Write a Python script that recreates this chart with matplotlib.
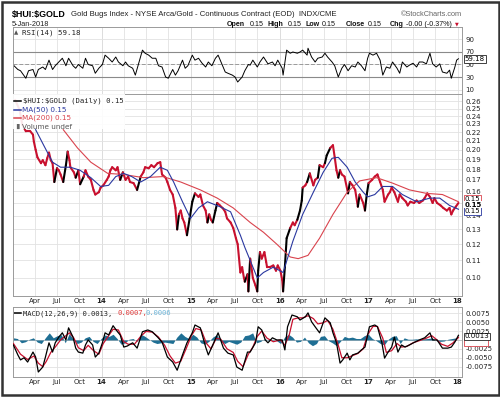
import numpy as np
import matplotlib
matplotlib.use("Agg")
import matplotlib.pyplot as plt
from matplotlib.collections import LineCollection
from matplotlib.patches import Rectangle
from matplotlib.ticker import FixedLocator, FixedFormatter, NullLocator

# ---------------- data (decimal years) ----------------
price_t = [2013.03, 2013.08, 2013.11, 2013.15, 2013.20, 2013.23, 2013.24, 2013.26, 2013.28, 2013.32,
           2013.34, 2013.37, 2013.39, 2013.41, 2013.43, 2013.45, 2013.47, 2013.50, 2013.52, 2013.54,
           2013.57, 2013.60, 2013.62, 2013.64, 2013.65, 2013.69, 2013.71, 2013.74, 2013.76, 2013.80,
           2013.82, 2013.85, 2013.88, 2013.91, 2013.93, 2013.97, 2013.99, 2014.02, 2014.06, 2014.08,
           2014.10, 2014.12, 2014.16, 2014.18, 2014.21, 2014.24, 2014.27, 2014.30, 2014.32, 2014.36,
           2014.40, 2014.44, 2014.47, 2014.49, 2014.53, 2014.56, 2014.59, 2014.63, 2014.66, 2014.68,
           2014.72, 2014.74, 2014.77, 2014.80, 2014.83, 2014.85, 2014.87, 2014.89, 2014.91, 2014.93,
           2014.96, 2014.99, 2015.02, 2015.05, 2015.09, 2015.11, 2015.14, 2015.17, 2015.19, 2015.21,
           2015.23, 2015.25, 2015.28, 2015.30, 2015.33, 2015.36, 2015.39, 2015.41, 2015.45, 2015.48,
           2015.51, 2015.53, 2015.56, 2015.58, 2015.60, 2015.61, 2015.64, 2015.65, 2015.67, 2015.69,
           2015.70, 2015.73, 2015.75, 2015.76, 2015.78, 2015.80, 2015.83, 2015.85, 2015.86, 2015.89,
           2015.93, 2015.96, 2015.98, 2016.01, 2016.03, 2016.04, 2016.06, 2016.08, 2016.12, 2016.15,
           2016.17, 2016.20, 2016.23, 2016.25, 2016.26, 2016.29, 2016.31, 2016.34, 2016.38, 2016.40,
           2016.43, 2016.45, 2016.49, 2016.51, 2016.53, 2016.57, 2016.60, 2016.62, 2016.64, 2016.66,
           2016.68, 2016.70, 2016.73, 2016.77, 2016.79, 2016.82, 2016.85, 2016.88, 2016.90, 2016.94,
           2016.96, 2016.98, 2017.00, 2017.04, 2017.07, 2017.10, 2017.13, 2017.16, 2017.18, 2017.22,
           2017.24, 2017.26, 2017.29, 2017.33, 2017.35, 2017.38, 2017.42, 2017.44, 2017.47, 2017.51,
           2017.54, 2017.57, 2017.61, 2017.63, 2017.66, 2017.69, 2017.72, 2017.74, 2017.77, 2017.81,
           2017.84, 2017.88, 2017.91, 2017.93, 2017.95, 2017.98, 2018.01]
price_v = [0.262, 0.248, 0.229, 0.221, 0.221, 0.217, 0.209, 0.200, 0.192, 0.186,
           0.189, 0.184, 0.191, 0.197, 0.189, 0.186, 0.168, 0.181, 0.179, 0.175,
           0.168, 0.184, 0.198, 0.189, 0.182, 0.177, 0.172, 0.179, 0.166, 0.173,
           0.179, 0.173, 0.170, 0.161, 0.157, 0.159, 0.163, 0.165, 0.170, 0.173,
           0.179, 0.182, 0.179, 0.182, 0.170, 0.177, 0.170, 0.173, 0.168, 0.167,
           0.161, 0.173, 0.177, 0.182, 0.181, 0.184, 0.182, 0.186, 0.187, 0.175,
           0.172, 0.168, 0.161, 0.157, 0.146, 0.130, 0.141, 0.144, 0.138, 0.135,
           0.126, 0.138, 0.151, 0.158, 0.155, 0.157, 0.148, 0.144, 0.135, 0.141,
           0.137, 0.135, 0.144, 0.150, 0.148, 0.146, 0.143, 0.138, 0.135, 0.131,
           0.124, 0.120, 0.103, 0.106, 0.100, 0.098, 0.102, 0.093, 0.111, 0.104,
           0.100, 0.096, 0.093, 0.104, 0.115, 0.111, 0.115, 0.109, 0.106, 0.106,
           0.107, 0.104, 0.107, 0.104, 0.099, 0.093, 0.106, 0.124, 0.131, 0.135,
           0.133, 0.137, 0.144, 0.152, 0.163, 0.165, 0.168, 0.176, 0.165, 0.170,
           0.172, 0.184, 0.182, 0.186, 0.194, 0.202, 0.205, 0.192, 0.179, 0.172,
           0.179, 0.175, 0.173, 0.158, 0.168, 0.165, 0.161, 0.147, 0.157, 0.150,
           0.144, 0.157, 0.167, 0.170, 0.173, 0.175, 0.168, 0.161, 0.151, 0.157,
           0.159, 0.163, 0.159, 0.151, 0.157, 0.154, 0.151, 0.148, 0.151, 0.150,
           0.152, 0.150, 0.152, 0.154, 0.158, 0.155, 0.150, 0.154, 0.150, 0.148,
           0.146, 0.144, 0.146, 0.141, 0.144, 0.147, 0.150]

ma50_t = [2013.26, 2013.35, 2013.45, 2013.54, 2013.65, 2013.76, 2013.88, 2013.99, 2014.08, 2014.16,
          2014.25, 2014.34, 2014.44, 2014.55, 2014.66, 2014.74, 2014.81, 2014.91, 2015.00, 2015.09,
          2015.19, 2015.33, 2015.45, 2015.56, 2015.61, 2015.67, 2015.75, 2015.82, 2015.93, 2016.04,
          2016.15, 2016.26, 2016.38, 2016.49, 2016.59, 2016.66, 2016.76, 2016.85, 2016.94, 2016.99,
          2017.07, 2017.16, 2017.27, 2017.38, 2017.54, 2017.69, 2017.80, 2017.91, 2018.01]
ma50_v = [0.223, 0.205, 0.187, 0.182, 0.182, 0.179, 0.172, 0.164, 0.165, 0.173,
          0.176, 0.173, 0.168, 0.173, 0.182, 0.179, 0.168, 0.151, 0.138, 0.146,
          0.151, 0.147, 0.143, 0.126, 0.118, 0.110, 0.100, 0.103, 0.106, 0.103,
          0.122, 0.141, 0.159, 0.177, 0.191, 0.192, 0.182, 0.168, 0.159, 0.155,
          0.157, 0.164, 0.164, 0.157, 0.151, 0.154, 0.154, 0.148, 0.145]

ma200_t = [2013.57, 2013.73, 2013.88, 2014.07, 2014.25, 2014.47, 2014.69, 2014.89, 2015.11, 2015.30,
           2015.48, 2015.67, 2015.82, 2015.97, 2016.12, 2016.21, 2016.32, 2016.45, 2016.60, 2016.76,
           2016.90, 2017.09, 2017.27, 2017.46, 2017.65, 2017.83, 2018.01]
ma200_v = [0.223, 0.202, 0.187, 0.176, 0.175, 0.172, 0.173, 0.168, 0.161, 0.154,
           0.146, 0.135, 0.128, 0.120, 0.112, 0.111, 0.113, 0.124, 0.141, 0.159,
           0.169, 0.172, 0.167, 0.161, 0.158, 0.157, 0.151]

rsi_t = [2013.01, 2013.06, 2013.09, 2013.15, 2013.18, 2013.23, 2013.26, 2013.29, 2013.34, 2013.37,
         2013.41, 2013.45, 2013.48, 2013.52, 2013.56, 2013.60, 2013.63, 2013.68, 2013.71, 2013.74,
         2013.79, 2013.82, 2013.85, 2013.90, 2013.93, 2013.97, 2014.01, 2014.04, 2014.08, 2014.12,
         2014.16, 2014.19, 2014.24, 2014.27, 2014.30, 2014.35, 2014.38, 2014.41, 2014.46, 2014.49,
         2014.53, 2014.57, 2014.61, 2014.64, 2014.68, 2014.72, 2014.75, 2014.80, 2014.83, 2014.86,
         2014.91, 2014.94, 2014.97, 2015.02, 2015.05, 2015.09, 2015.13, 2015.17, 2015.20, 2015.24,
         2015.28, 2015.31, 2015.36, 2015.39, 2015.42, 2015.47, 2015.50, 2015.53, 2015.58, 2015.61,
         2015.65, 2015.67, 2015.70, 2015.75, 2015.78, 2015.82, 2015.87, 2015.92, 2015.95, 2015.98,
         2016.03, 2016.04, 2016.08, 2016.12, 2016.15, 2016.20, 2016.23, 2016.26, 2016.31, 2016.32,
         2016.36, 2016.40, 2016.43, 2016.48, 2016.51, 2016.54, 2016.59, 2016.62, 2016.66, 2016.70,
         2016.73, 2016.77, 2016.81, 2016.85, 2016.88, 2016.92, 2016.96, 2016.99, 2017.01, 2017.05,
         2017.09, 2017.13, 2017.16, 2017.20, 2017.24, 2017.27, 2017.32, 2017.35, 2017.38, 2017.43,
         2017.46, 2017.50, 2017.54, 2017.57, 2017.61, 2017.65, 2017.69, 2017.72, 2017.76, 2017.80,
         2017.83, 2017.88, 2017.91, 2017.93, 2017.97, 2017.99, 2018.01]
rsi_v = [49, 42, 40, 28, 40, 42, 30, 42, 46, 42,
         57, 42, 48, 54, 60, 48, 60, 48, 44, 50,
         44, 60, 50, 48, 36, 44, 50, 65, 60, 54,
         62, 54, 48, 54, 48, 44, 33, 48, 73, 68,
         65, 60, 60, 48, 46, 30, 28, 42, 33, 40,
         57, 44, 48, 65, 57, 60, 52, 46, 54, 48,
         60, 65, 48, 38, 36, 33, 30, 22, 30, 40,
         50, 49, 57, 46, 54, 62, 51, 54, 48, 57,
         44, 33, 73, 68, 70, 68, 70, 73, 65, 76,
         62, 54, 60, 62, 68, 62, 54, 48, 30, 44,
         50, 40, 48, 46, 54, 48, 40, 60, 68, 65,
         68, 57, 33, 46, 44, 54, 44, 36, 54, 46,
         49, 52, 46, 54, 54, 51, 68, 51, 46, 51,
         38, 36, 41, 28, 46, 57, 59.18]

macd_t = [2013.01, 2013.06, 2013.09, 2013.13, 2013.17, 2013.23, 2013.26, 2013.29, 2013.34, 2013.37,
          2013.41, 2013.45, 2013.48, 2013.52, 2013.56, 2013.60, 2013.63, 2013.68, 2013.71, 2013.74,
          2013.79, 2013.82, 2013.85, 2013.90, 2013.93, 2013.97, 2014.01, 2014.04, 2014.08, 2014.13,
          2014.18, 2014.21, 2014.25, 2014.29, 2014.35, 2014.40, 2014.46, 2014.52, 2014.57, 2014.63,
          2014.68, 2014.74, 2014.80, 2014.85, 2014.91, 2014.96, 2015.02, 2015.05, 2015.11, 2015.17,
          2015.20, 2015.25, 2015.31, 2015.37, 2015.42, 2015.48, 2015.52, 2015.58, 2015.64, 2015.67,
          2015.73, 2015.76, 2015.80, 2015.84, 2015.87, 2015.92, 2015.97, 2016.03, 2016.06, 2016.09,
          2016.14, 2016.20, 2016.23, 2016.29, 2016.32, 2016.36, 2016.40, 2016.45, 2016.51, 2016.57,
          2016.60, 2016.64, 2016.68, 2016.71, 2016.76, 2016.79, 2016.82, 2016.88, 2016.92, 2016.96,
          2017.01, 2017.07, 2017.10, 2017.15, 2017.18, 2017.22, 2017.26, 2017.29, 2017.33, 2017.37,
          2017.41, 2017.46, 2017.52, 2017.57, 2017.63, 2017.69, 2017.72, 2017.77, 2017.83, 2017.89,
          2017.93, 2017.97, 2018.01]
macd_v = [-0.0014, -0.0042, -0.0056, -0.0050, -0.0062, -0.0034, -0.0048, -0.0090, -0.0076, -0.0048,
          -0.0008, -0.0034, -0.0008, 0.0008, 0.0020, 0.0000, 0.0034, 0.0008, -0.0023, -0.0034,
          -0.0037, -0.0014, 0.0000, -0.0014, -0.0048, -0.0037, -0.0008, 0.0020, 0.0014, 0.0040,
          0.0023, 0.0014, -0.0020, -0.0017, -0.0008, -0.0023, 0.0023, 0.0028, 0.0023, 0.0008,
          -0.0006, -0.0048, -0.0062, -0.0085, -0.0042, -0.0008, 0.0020, 0.0042, 0.0034, -0.0020,
          -0.0042, -0.0014, 0.0020, -0.0023, -0.0037, -0.0042, -0.0076, -0.0085, -0.0034, -0.0034,
          -0.0008, 0.0037, 0.0028, 0.0000, -0.0008, 0.0006, 0.0000, 0.0000, -0.0028, 0.0037,
          0.0070, 0.0065, 0.0056, 0.0065, 0.0076, 0.0051, 0.0037, 0.0020, 0.0062, 0.0048,
          0.0020, -0.0008, -0.0065, -0.0056, -0.0037, -0.0056, -0.0042, -0.0037, -0.0028, -0.0020,
          0.0037, 0.0042, 0.0037, -0.0008, -0.0051, -0.0034, -0.0020, 0.0008, -0.0034, -0.0014,
          -0.0020, -0.0014, -0.0006, 0.0000, 0.0006, 0.0020, 0.0000, 0.0000, -0.0023, -0.0023,
          -0.0020, -0.0006, 0.0013]

signal_t = [2013.01, 2013.09, 2013.17, 2013.24, 2013.29, 2013.34, 2013.38, 2013.43, 2013.48, 2013.54,
            2013.60, 2013.64, 2013.69, 2013.74, 2013.80, 2013.85, 2013.91, 2013.97, 2014.02, 2014.08,
            2014.13, 2014.19, 2014.25, 2014.30, 2014.37, 2014.44, 2014.50, 2014.57, 2014.64, 2014.71,
            2014.77, 2014.83, 2014.89, 2014.95, 2015.01, 2015.06, 2015.12, 2015.18, 2015.23, 2015.29,
            2015.34, 2015.41, 2015.48, 2015.53, 2015.59, 2015.65, 2015.70, 2015.75, 2015.80, 2015.86,
            2015.93, 2016.01, 2016.06, 2016.11, 2016.15, 2016.21, 2016.26, 2016.32, 2016.38, 2016.43,
            2016.49, 2016.54, 2016.60, 2016.66, 2016.70, 2016.76, 2016.81, 2016.88, 2016.94, 2016.99,
            2017.05, 2017.10, 2017.16, 2017.20, 2017.26, 2017.32, 2017.37, 2017.43, 2017.50, 2017.57,
            2017.64, 2017.71, 2017.76, 2017.82, 2017.89, 2017.95, 2018.01]
signal_v = [-0.0010, -0.0040, -0.0055, -0.0045, -0.0065, -0.0075, -0.0060, -0.0035, -0.0020, 0.0000,
            0.0012, 0.0020, 0.0005, -0.0022, -0.0030, -0.0015, -0.0030, -0.0040, -0.0010, 0.0012,
            0.0030, 0.0028, -0.0005, -0.0012, -0.0012, 0.0010, 0.0024, 0.0022, 0.0008, -0.0015,
            -0.0045, -0.0065, -0.0060, -0.0025, 0.0012, 0.0032, 0.0028, -0.0010, -0.0025, 0.0005,
            0.0002, -0.0025, -0.0035, -0.0060, -0.0075, -0.0040, -0.0020, 0.0010, 0.0025, 0.0005,
            -0.0005, 0.0000, -0.0015, 0.0015, 0.0058, 0.0062, 0.0062, 0.0068, 0.0060, 0.0045,
            0.0048, 0.0055, 0.0030, -0.0015, -0.0050, -0.0050, -0.0045, -0.0038, -0.0025, 0.0015,
            0.0038, 0.0038, 0.0005, -0.0035, -0.0030, -0.0010, -0.0020, -0.0018, -0.0008, -0.0002,
            0.0004, 0.0012, 0.0002, -0.0012, -0.0018, -0.0008, 0.0007]

# MACD histogram, thousandths, one value every ~16 days from 2013.01
hist_start = 2013.01
hist_step = 0.0448
hist_milli = [0.6, 0.4, -0.8, -0.5, 0.2, 0.6, -0.6, -1.0, 0.6, 2.0,
              0.6, 1.2, 1.5, -0.8, 1.8, 0.2, -1.0, -0.6, 0.6, 1.0,
              -0.4, -1.0, 0.4, 1.4, 1.0, 1.6, 0.4, -1.2, -0.8, 0.2,
              0.4, -0.4, 1.6, 1.0, 0.2, -0.6, -1.0, -0.8, -0.6, -0.8,
              -1.0, 0.8, 2.0, 1.0, 0.4, 1.6, 0.8, -0.8, -1.2, -0.4,
              0.8, 1.5, -0.4, -1.0, -0.4, -0.8, -1.2, -0.6, 1.2, 1.4,
              2.0, -0.8, -0.4, 0.4, -0.2, 0.2, -0.2, -1.0, 0.8, 1.6,
              0.8, -0.6, -0.4, 0.8, -0.8, -1.6, -1.0, 1.0, 1.2, -0.2,
              -0.8, -1.6, -0.4, 1.0, 0.6, 0.8, 0.4, 0.4, 1.2, 1.6,
              0.4, -0.2, -1.0, -1.4, 0.2, 1.0, 1.2, -1.0, 0.6, 0.2,
              0.2, 0.3, 0.2, 0.3, 0.4, 0.6, -0.2, -0.4, -0.3, 0.2,
              0.4, 0.6]

price_ticks = [0.10, 0.11, 0.12, 0.13, 0.14, 0.15, 0.16, 0.17, 0.18, 0.19,
               0.20, 0.21, 0.22, 0.23, 0.24, 0.25, 0.26]
rsi_ticks = [10, 30, 50, 70, 90]
macd_ticks = [-0.0075, -0.005, -0.0025, 0.0025, 0.005, 0.0075]
macd_tick_labels = ["-0.0075", "-0.0050", "-0.0025", "0.0025", "0.0050", "0.0075"]
x_ticks = [2013.25, 2013.5, 2013.75, 2014.0, 2014.25, 2014.5, 2014.75, 2015.0, 2015.25, 2015.5,
           2015.75, 2016.0, 2016.25, 2016.5, 2016.75, 2017.0, 2017.25, 2017.5, 2017.75, 2018.0]
x_labels = ["Apr", "Jul", "Oct", "14", "Apr", "Jul", "Oct", "15", "Apr", "Jul",
            "Oct", "16", "Apr", "Jul", "Oct", "17", "Apr", "Jul", "Oct", "18"]

# ---------------- styling ----------------
RED = "#c8102e"
MA_RED = "#d9434d"
BLUE = "#2a38a0"
TEAL = "#1f6f94"
GRID = "#e2e2e2"
SPINE = "#9a9a9a"
FS = 5.0

fig = plt.figure(figsize=(5.0, 3.97), dpi=100)
fig.patch.set_facecolor("white")
fig.patches.append(Rectangle((0.003, 0.004), 0.994, 0.992, transform=fig.transFigure,
                             fill=False, edgecolor="#333333", linewidth=1.8))

L, W = 0.025, 0.899
ax_rsi = fig.add_axes([L, 1 - 94 / 397, W, 67 / 397])
ax = fig.add_axes([L, 1 - 296 / 397, W, 202 / 397])
ax_m = fig.add_axes([L, 1 - 377 / 397, W, 70 / 397])

XLIM = (2013.0, 2018.05)
for a in (ax_rsi, ax, ax_m):
    a.set_xlim(*XLIM)
    a.set_xticks(x_ticks)
    a.grid(True, color=GRID, linewidth=0.6)
    a.set_axisbelow(True)
    for s in a.spines.values():
        s.set_color(SPINE)
        s.set_linewidth(0.7)
    a.spines["right"].set_linestyle((0, (1, 1)))
    a.yaxis.tick_right()
    a.tick_params(axis="both", length=0, labelsize=FS, pad=2.5, colors="#222222")
    for yr in (2014.0, 2015.0, 2016.0, 2017.0):
        a.axvline(yr, color="#c4c4c4", linewidth=0.7, zorder=0.5)

# x labels
for a in (ax, ax_m):
    a.set_xticklabels(x_labels, fontsize=FS, family="DejaVu Sans")
    for lab in a.get_xticklabels():
        if lab.get_text().isdigit():
            lab.set_fontweight("bold")
    a.tick_params(axis="x", pad=1.5)
ax_rsi.set_xticklabels([])

# ---------------- RSI ----------------
ax_rsi.set_ylim(2.8, 110)
ax_rsi.set_yticks(rsi_ticks)
ax_rsi.set_yticklabels([str(v) for v in rsi_ticks])
ax_rsi.axhline(70, color="#8a8a8a", linewidth=0.8)
ax_rsi.axhline(30, color="#8a8a8a", linewidth=0.8)
ax_rsi.axhline(50, color="#9a9a9a", linewidth=0.7, linestyle=(0, (4, 2)))
ax_rsi.plot(rsi_t, rsi_v, color="black", linewidth=0.7)
ax_rsi.text(0.004, 0.92, "\u25b2", transform=ax_rsi.transAxes, fontsize=4, color="#555555",
            va="center", ha="left")
ax_rsi.text(0.022, 0.92, "RSI(14) 59.18", transform=ax_rsi.transAxes, fontsize=5.3,
            family="DejaVu Sans Mono", va="center", ha="left", color="#222222")
ax_rsi.text(1.006, rsi_v[-1], "59.18", transform=ax_rsi.get_yaxis_transform(), fontsize=FS,
            va="center", ha="left", clip_on=False,
            bbox=dict(boxstyle="square,pad=0.12", fc="white", ec="#222222", lw=0.6))

# ---------------- main price ----------------
ax.set_yscale("log")
ax.set_ylim(0.0907, 0.2704)
ax.yaxis.set_major_locator(FixedLocator(price_ticks))
ax.yaxis.set_major_formatter(FixedFormatter(["" if abs(v - 0.15) < 1e-9 else "%.2f" % v
                                             for v in price_ticks]))
ax.yaxis.set_minor_locator(NullLocator())

pt = np.array(price_t)
pv = np.array(price_v)
segs = [[(pt[i], pv[i]), (pt[i + 1], pv[i + 1])] for i in range(len(pt) - 1)]
cols = ["black" if pv[i + 1] > pv[i] * 1.04 else RED for i in range(len(pt) - 1)]
ax.add_collection(LineCollection(segs, colors=cols, linewidths=1.5, zorder=3,
                                 capstyle="round", joinstyle="round"))
ax.plot(ma200_t, ma200_v, color=MA_RED, linewidth=0.8, zorder=4)
ax.plot(ma50_t, ma50_v, color=BLUE, linewidth=0.8, zorder=4)

# legend block
ax.add_patch(Rectangle((0.0, 0.827), 0.25, 0.173, transform=ax.transAxes,
                       facecolor="white", edgecolor="none", alpha=0.9, zorder=5))
leg_rows = [("\\$HUI:\\$GOLD (Daily) 0.15", "black", "#222222"),
            ("MA(50) 0.15", BLUE, BLUE),
            ("MA(200) 0.15", MA_RED, MA_RED),
            ("Volume undef", "#666666", "#555555")]
for i, (txt, lc, tc) in enumerate(leg_rows):
    yy = 0.966 - i * 0.043
    if i < 3:
        ax.plot([0.004, 0.02], [yy, yy], transform=ax.transAxes, color=lc, linewidth=1.1,
                zorder=6, clip_on=False)
    else:
        ax.text(0.003, yy, "\u2590\u258c", transform=ax.transAxes, fontsize=3.5, color=lc,
                va="center", ha="left", zorder=6)
    ax.text(0.024 if i == 0 else 0.021, yy, txt, transform=ax.transAxes, fontsize=5.2,
            family="DejaVu Sans Mono" if i == 0 else "DejaVu Sans", color=tc,
            va="center", ha="left", zorder=6)

ytr = ax.get_yaxis_transform()
ax.text(1.006, 0.1535, "0.15", transform=ytr, fontsize=FS, va="center", ha="left", clip_on=False,
        bbox=dict(boxstyle="square,pad=0.12", fc="white", ec=MA_RED, lw=0.6), zorder=7)
ax.text(1.006, 0.1435, "0.15", transform=ytr, fontsize=FS, va="center", ha="left", clip_on=False,
        bbox=dict(boxstyle="square,pad=0.12", fc="white", ec=BLUE, lw=0.6), zorder=7)
ax.text(1.006, 0.1485, "0.15", transform=ytr, fontsize=FS, va="center", ha="left", clip_on=False,
        fontweight="bold", zorder=8,
        bbox=dict(boxstyle="square,pad=0.05", fc="white", ec="none"))

# ---------------- MACD ----------------
ax_m.set_ylim(-0.0104, 0.00925)
ax_m.set_yticks(macd_ticks)
ax_m.set_yticklabels(macd_tick_labels)
ax_m.axhline(0, color="#bbbbbb", linewidth=0.6)
ht = hist_start + np.arange(len(hist_milli)) * hist_step
hv = np.array(hist_milli) / 1000.0
ax_m.fill_between(ht, 0, hv, color=TEAL, linewidth=0, zorder=2)
ax_m.plot(signal_t, signal_v, color=RED, linewidth=0.9, zorder=3)
ax_m.plot(macd_t, macd_v, color="black", linewidth=0.9, zorder=4)

ax_m.plot([0.004, 0.02], [0.91, 0.91], transform=ax_m.transAxes, color="black", linewidth=1.1)
ax_m.text(0.024, 0.91, "MACD(12,26,9) 0.0013,", transform=ax_m.transAxes, fontsize=5.1,
          family="DejaVu Sans Mono", va="center", ha="left", color="#222222")
ax_m.text(0.233, 0.91, "0.0007,", transform=ax_m.transAxes, fontsize=5.1,
          family="DejaVu Sans Mono", va="center", ha="left", color="#e03a3a")
ax_m.text(0.295, 0.91, "0.0006", transform=ax_m.transAxes, fontsize=5.1,
          family="DejaVu Sans Mono", va="center", ha="left", color="#6cb4d8")
mtr = ax_m.get_yaxis_transform()
ax_m.text(1.006, -0.0008, "          ", transform=mtr, fontsize=FS, va="center", ha="left",
          clip_on=False, bbox=dict(boxstyle="square,pad=0.1", fc="white", ec=MA_RED, lw=0.6))
ax_m.text(1.006, 0.0010, "0.0013", transform=mtr, fontsize=FS, va="center", ha="left",
          clip_on=False, bbox=dict(boxstyle="square,pad=0.12", fc="white", ec="#222222", lw=0.6))

# ---------------- header ----------------
def fy(y):
    return 1 - y / 397.0

fig.text(12 / 500, fy(15), "\\$HUI:\\$GOLD", fontsize=6.4, fontweight="bold", family="Liberation Sans",
         va="center", ha="left")
fig.text(71 / 500, fy(15), "Gold Bugs Index - NYSE Arca/Gold - Continuous Contract (EOD)  INDX/CME",
         fontsize=5.6, family="Liberation Sans", va="center", ha="left", color="#222222")
fig.text(462 / 500, fy(15), "\u00a9StockCharts.com", fontsize=5.3, family="Liberation Sans",
         va="center", ha="right", color="#666666")
fig.text(12 / 500, fy(24), "5-Jan-2018", fontsize=5.3, family="Liberation Sans",
         va="center", ha="left", color="#222222")
hdr = [(227, "Open", True), (250, "0.15", False), (268, "High", True), (288, "0.15", False),
       (306, "Low", True), (322, "0.15", False), (346, "Close", True), (368, "0.15", False),
       (390, "Chg", True), (406, "-0.00 (-0.37%)", False)]
for x, s, b in hdr:
    fig.text(x / 500, fy(24), s, fontsize=5.1, family="Liberation Sans",
             fontweight="bold" if b else "normal", va="center", ha="left", color="#111111")
fig.text(455 / 500, fy(24), "\u25bc", fontsize=3.5, color=RED, va="center", ha="left")

fig.savefig("out.png", dpi=100, facecolor="white")
